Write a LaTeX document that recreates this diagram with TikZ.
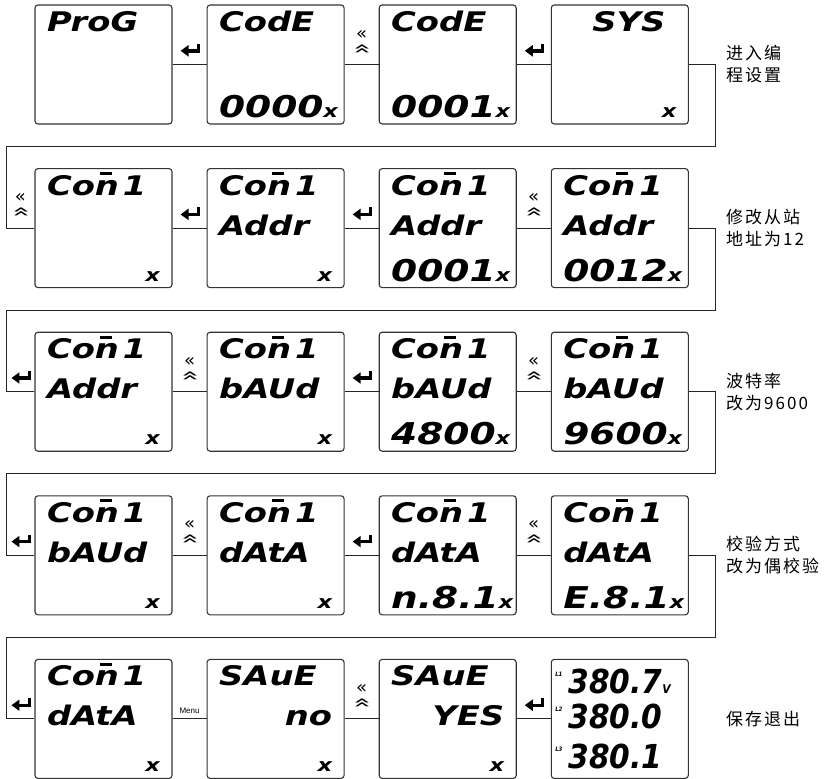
\documentclass[tikz,border=0pt]{standalone}
\usepackage{fontspec}
\usepackage{graphicx}
\usepackage{tikz}
\usetikzlibrary{arrows.meta,positioning}
\setmainfont{DejaVu Sans}
\newfontfamily\lcdfont{DejaVu Sans}[FakeStretch=1.25]
\newfontfamily\lcdnum{DejaVu Sans}[FakeStretch=0.9]
\newfontfamily\cjkfont{Noto Sans CJK SC}[LetterSpace=12]
\newfontfamily\menufont{Liberation Sans}
% three display lines of one screen
\newcommand{\lcd}[3]{\rule{0pt}{22pt}#1\\[-3pt]\mbox{}#2\\[3pt]\mbox{}#3\rule[-3pt]{0pt}{3pt}}
\newcommand{\push}{\hspace*{0pt plus 1filll}}
\newcommand{\digits}[1]{{\fontsize{30}{43}\selectfont #1}}
\newcommand{\ux}{{\fontsize{18}{18}\selectfont x}}
\newcommand{\cn}{Co\rlap{\hspace{5pt}\raisebox{20pt}{\rule{12pt}{3pt}}}n\hspace{4pt}1}
\newcommand{\phase}[1]{\raisebox{17pt}{\fontsize{6}{6}\selectfont #1}\hspace{6pt}}
\newcommand{\enterkey}{\tikz[baseline=0pt]\draw[line width=3.4pt, line join=miter, -{Triangle[length=8pt,width=11pt]}] (0pt,7pt) -- (0pt,0pt) -- (-18pt,0pt);}
\newcommand{\shiftkey}{{\fontsize{18}{12}\selectfont\shortstack{«\\[1pt]\rotatebox{-90}{\scalebox{1}[1.7]{«}}}}}
\tikzset{
  lcdbox/.style={draw=black!80, line width=1.1pt, rounded corners=3pt, minimum width=137pt, minimum height=119pt, text width=113pt, inner xsep=12pt, inner ysep=0pt, align=left, font=\lcdfont\bfseries\itshape\fontsize{27}{43}\selectfont},
  lcdlast/.style={lcdbox, text width=129pt, inner xsep=4pt, font=\lcdnum\bfseries\itshape\fontsize{33}{38}\selectfont},
  link/.style={draw=black!85, line width=0.9pt},
  keylbl/.style={above=#1, inner sep=0pt},
  keylbl/.default=8pt,
  menu/.style={above=5pt, inner sep=0pt, font=\menufont\fontsize{8}{8}\selectfont},
  note/.style={inner sep=0pt, align=left, font=\cjkfont\fontsize{17}{22}\selectfont},
}
\begin{document}
\begin{tikzpicture}[x=1pt, y=1pt, node distance=43.5pt and 34pt]
\useasboundingbox (0,0) rectangle (828,-779);
% row 1
\node[lcdbox] (prog) at (103.5,-64.5) {\lcd{ProG}{}{}};
\node[lcdbox, right=of prog] (codea) {\lcd{CodE}{}{\push\digits{0000}\ux}};
\node[lcdbox, right=of codea] (codeb) {\lcd{CodE}{}{\push\digits{0001}\ux}};
\node[lcdbox, right=of codeb] (sys) {\lcd{\hspace*{29pt}SYS}{}{\push\ux}};
% row 2
\node[lcdbox, below=of prog] (conn) {\lcd{\cn}{}{\push\ux}};
\node[lcdbox, right=of conn] (addr) {\lcd{\cn}{Addr}{\push\ux}};
\node[lcdbox, right=of addr] (addr1) {\lcd{\cn}{Addr}{\push\digits{0001}\ux}};
\node[lcdbox, right=of addr1] (addr12) {\lcd{\cn}{Addr}{\push\digits{0012}\ux}};
% row 3
\node[lcdbox, below=of conn] (addrok) {\lcd{\cn}{Addr}{\push\ux}};
\node[lcdbox, right=of addrok] (baud) {\lcd{\cn}{bAUd}{\push\ux}};
\node[lcdbox, right=of baud] (baud48) {\lcd{\cn}{bAUd}{\push\digits{4800}\ux}};
\node[lcdbox, right=of baud48] (baud96) {\lcd{\cn}{bAUd}{\push\digits{9600}\ux}};
% row 4
\node[lcdbox, below=of addrok] (baudok) {\lcd{\cn}{bAUd}{\push\ux}};
\node[lcdbox, right=of baudok] (data) {\lcd{\cn}{dAtA}{\push\ux}};
\node[lcdbox, right=of data] (datan) {\lcd{\cn}{dAtA}{\push\digits{n.8.1}\ux}};
\node[lcdbox, right=of datan] (datae) {\lcd{\cn}{dAtA}{\push\digits{E.8.1}\ux}};
% row 5
\node[lcdbox, below=of baudok] (dataok) {\lcd{\cn}{dAtA}{\push\ux}};
\node[lcdbox, right=of dataok] (saveno) {\lcd{SAuE}{\push no\hspace*{38pt}}{\push\ux}};
\node[lcdbox, right=of saveno] (saveyes) {\lcd{SAuE}{\push YES\hspace*{21pt}}{\push\ux}};
\node[lcdlast, right=of saveyes] (meas) {\rule{0pt}{24pt}\phase{L1}380.7{\fontsize{12}{12}\selectfont V}\\[-3pt]\phase{L2}380.0\\[2pt]\phase{L3}380.1};
% key presses
\draw[link] (prog) -- node[keylbl] (k1a) {\enterkey} (codea);
\draw[link] (codea) -- node[keylbl=10pt] (k1b) {\shiftkey} (codeb);
\draw[link] (codeb) -- node[keylbl] (k1c) {\enterkey} (sys);
\draw[link] (sys.east) -- ++(27,0) |- ([xshift=-28pt, yshift=81.75pt]conn.west) |- node[keylbl=10pt, pos=0.75] (k2o) {\shiftkey} (conn.west);
\draw[link] (conn) -- node[keylbl] (k2a) {\enterkey} (addr);
\draw[link] (addr) -- node[keylbl] (k2b) {\enterkey} (addr1);
\draw[link] (addr1) -- node[keylbl=10pt] (k2c) {\shiftkey} (addr12);
\draw[link] (addr12.east) -- ++(27,0) |- ([xshift=-28pt, yshift=81.75pt]addrok.west) |- node[keylbl, pos=0.75] (k3o) {\enterkey} (addrok.west);
\draw[link] (addrok) -- node[keylbl=10pt] (k3a) {\shiftkey} (baud);
\draw[link] (baud) -- node[keylbl] (k3b) {\enterkey} (baud48);
\draw[link] (baud48) -- node[keylbl=10pt] (k3c) {\shiftkey} (baud96);
\draw[link] (baud96.east) -- ++(27,0) |- ([xshift=-28pt, yshift=81.75pt]baudok.west) |- node[keylbl, pos=0.75] (k4o) {\enterkey} (baudok.west);
\draw[link] (baudok) -- node[keylbl=10pt] (k4a) {\shiftkey} (data);
\draw[link] (data) -- node[keylbl] (k4b) {\enterkey} (datan);
\draw[link] (datan) -- node[keylbl=10pt] (k4c) {\shiftkey} (datae);
\draw[link] (datae.east) -- ++(27,0) |- ([xshift=-28pt, yshift=81.75pt]dataok.west) |- node[keylbl, pos=0.75] (k5o) {\enterkey} (dataok.west);
\draw[link] (dataok) -- node[menu] (k5a) {Menu} (saveno);
\draw[link] (saveno) -- node[keylbl=10pt] (k5b) {\shiftkey} (saveyes);
\draw[link] (saveyes) -- node[keylbl] (k5c) {\enterkey} (meas);
% notes
\node[note, right=37pt of sys] (n1) {进入编\\程设置};
\node[note, right=37pt of addr12] (n2) {修改从站\\地址为12};
\node[note, right=37pt of baud96] (n3) {波特率\\改为9600};
\node[note, right=37pt of datae] (n4) {校验方式\\改为偶校验};
\node[note, right=37pt of meas] (n5) {保存退出};
\end{tikzpicture}
\end{document}
